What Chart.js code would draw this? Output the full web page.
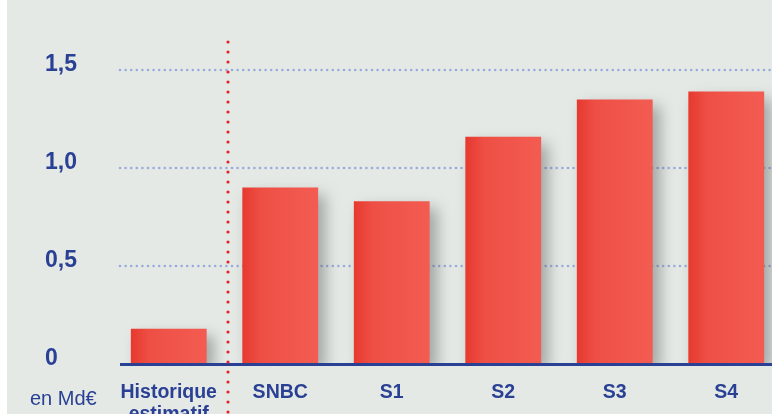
<!DOCTYPE html>
<html>
<head>
<meta charset="utf-8">
<script src="https://cdn.jsdelivr.net/npm/chart.js@4.4.1/dist/chart.umd.min.js"></script>
<style>
  html, body { margin: 0; padding: 0; background: #ffffff; overflow: hidden; }
  #wrap { position: absolute; left: 0; top: 0; width: 782px; height: 414px; }
</style>
</head>
<body>
<div id="wrap"><canvas id="myChart" width="782" height="414"></canvas></div>
<script>
// data (Md€)
const categories = [["Historique", "estimatif"], "SNBC", "S1", "S2", "S3", "S4"];
const values = [0.18, 0.90, 0.83, 1.16, 1.35, 1.39];
const yTicks = [0, 0.5, 1.0, 1.5];
const yTickLabels = ["0", "0,5", "1,0", "1,5"];
const unitLabel = "en Md€";

const blue = "#2a4094";
const bg = "#e4e9e5";
const font = "'Liberation Sans', Arial, sans-serif";

function barFill(ctx) {
  let chart = ctx.chart;
  let xs = chart.scales && chart.scales.x;
  if (!xs || !chart.chartArea || ctx.dataIndex === undefined) return "#f0574d";
  let x = xs.getPixelForValue(ctx.dataIndex);
  let half = 38;
  let g = chart.ctx.createLinearGradient(x - half, 0, x + half, 0);
  g.addColorStop(0, "#e6392f");
  g.addColorStop(0.25, "#ee4f45");
  g.addColorStop(1, "#f35c52");
  return g;
}

const backgroundPlugin = {
  id: "bgFill",
  beforeDraw(chart) {
    let c = chart.ctx;
    c.save();
    c.fillStyle = bg;
    c.fillRect(7, 0, chart.width - 7, chart.height);
    // dotted gridlines
    let y = chart.scales.y;
    c.fillStyle = "#9aabdd";
    yTicks.forEach((v) => {
      if (v === 0) return;
      let py = y.getPixelForValue(v);
      for (let px = 120; px < chart.width; px += 5.6) {
        c.beginPath();
        c.arc(px, py, 1.3, 0, Math.PI * 2);
        c.fill();
      }
    });
    c.restore();
  }
};

const shadowPlugin = {
  id: "barShadow",
  beforeDatasetsDraw(chart) {
    let c = chart.ctx;
    c.save();
    c.shadowColor = "rgba(60,60,60,0.4)";
    c.shadowBlur = 14;
    c.shadowOffsetX = 7;
    c.shadowOffsetY = 7;
  },
  afterDatasetsDraw(chart) {
    chart.ctx.restore();
  }
};

const extrasPlugin = {
  id: "extras",
  afterDraw(chart) {
    let c = chart.ctx;
    let x = chart.scales.x;
    let y = chart.scales.y;
    // axis line
    c.save();
    c.strokeStyle = blue;
    c.lineWidth = 3;
    c.beginPath();
    c.moveTo(120, y.getPixelForValue(0) + 0.5);
    c.lineTo(chart.width, y.getPixelForValue(0) + 0.5);
    c.stroke();
    // red dotted separator between history and scenarios
    let sx = (x.getPixelForValue(0) + x.getPixelForValue(1)) / 2 + 3.5;
    c.fillStyle = "#e8202a";
    for (let py = 42; py < chart.height; py += 10) {
      c.beginPath();
      c.arc(sx, py, 1.6, 0, Math.PI * 2);
      c.fill();
    }
    // unit label
    c.fillStyle = blue;
    c.font = "500 20px " + font;
    c.textBaseline = "middle";
    c.textAlign = "left";
    c.fillText(unitLabel, 30, 399);
    c.restore();
  }
};

new Chart(document.getElementById("myChart").getContext("2d"), {
  type: "bar",
  data: {
    labels: categories,
    datasets: [
      {
        label: "Md€",
        data: values,
        backgroundColor: barFill,
        borderWidth: 0,
        categoryPercentage: 0.68,
        barPercentage: 1.0,
      },
    ],
  },
  options: {
    responsive: false,
    animation: false,
    layout: { padding: { left: 45, right: 0, top: 70, bottom: 0 } },
    plugins: {
      legend: { display: false },
      tooltip: { enabled: false },
    },
    scales: {
      x: {
        grid: { display: false, drawTicks: false },
        border: { display: false },
        ticks: {
          color: blue,
          padding: 17,
          maxRotation: 0,
          autoSkip: false,
          font: { family: font, size: 19.5, weight: "bold", lineHeight: 1.15 },
        },
        afterFit: (s) => { s.height = 50; },
      },
      y: {
        min: 0,
        max: 1.5,
        afterBuildTicks: (s) => { s.ticks = yTicks.map((v) => ({ value: v })); },
        grid: { display: false, drawTicks: false },
        border: { display: false },
        ticks: {
          color: blue,
          crossAlign: "far",
          labelOffset: -5,
          padding: 0,
          font: { family: font, size: 23, weight: "bold" },
          callback: (v) => yTickLabels[yTicks.indexOf(v)],
        },
        afterFit: (s) => { s.width = 68; },
      },
    },
  },
  plugins: [backgroundPlugin, shadowPlugin, extrasPlugin],
});
</script>
</body>
</html>
